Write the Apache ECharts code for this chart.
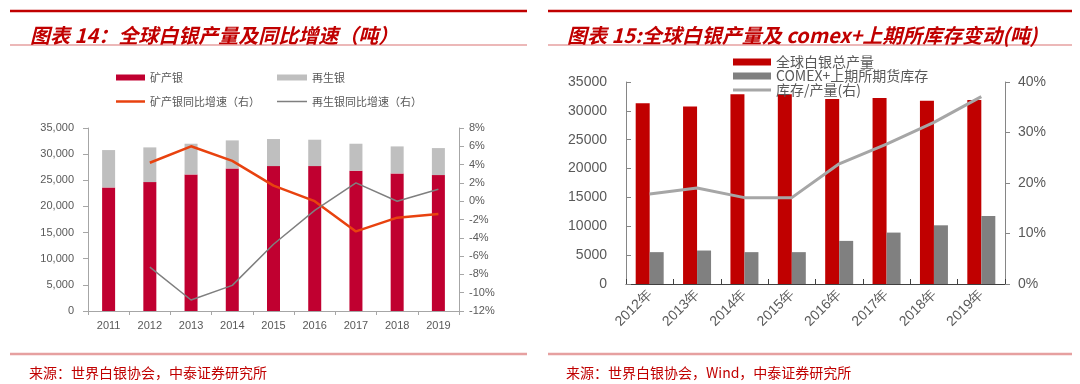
<!DOCTYPE html>
<html>
<head>
<meta charset="utf-8">
<script src="https://cdn.jsdelivr.net/npm/echarts@6/dist/echarts.min.js"></script>
<style>
html,body{margin:0;padding:0;background:#fff;}
#c{width:1080px;height:384px;}
</style>
</head>
<body>
<div id="c"></div>
<script>
// ---- Left chart data (图表14) ----
const yearsL = ['2011','2012','2013','2014','2015','2016','2017','2018','2019'];
const mineSilver = [23630, 24650, 26120, 27270, 27710, 27710, 26820, 26310, 25990];
const recycledSilver = [7150, 6640, 5870, 5360, 5180, 5050, 5170, 5170, 5170];
const mineYoY = [null, 4.2, 6.0, 4.4, 1.7, 0.0, -3.3, -1.8, -1.4];
const recycledYoY = [null, -7.2, -10.8, -9.2, -4.7, -1.0, 2.0, 0.0, 1.3];
const leftTicksL = [0, 35000, 5000];
const rightTicksL = [-12, 8, 2];

// ---- Right chart data (图表15) ----
const yearsR = ['2012年','2013年','2014年','2015年','2016年','2017年','2018年','2019年'];
const totalOutput = [31300, 30750, 32880, 32880, 32060, 32240, 31760, 31880];
const stockpile = [5520, 5800, 5520, 5520, 7470, 8910, 10170, 11780];
const stockRatio = [17.8, 19.0, 17.1, 17.1, 23.8, 27.7, 32.0, 37.1];
const leftTicksR = [0, 35000, 5000];
const rightTicksR = [0, 40, 10];

const titleL = '图表 14：全球白银产量及同比增速（吨）';
const titleR = '图表 15:全球白银产量及 comex+上期所库存变动(吨)';
const sourceL = '来源：世界白银协会，中泰证券研究所';
const sourceR = '来源：世界白银协会，Wind，中泰证券研究所';

const CJK = '"Noto Sans CJK SC", "Noto Sans", sans-serif';
const LAT = '"Liberation Sans", Arial, sans-serif';

const chart = echarts.init(document.getElementById('c'), null, {renderer:'canvas'});

function hline(x1, x2, y, color, w){
  return {type:'line', silent:true, shape:{x1:x1, y1:y, x2:x2, y2:y}, style:{stroke:color, lineWidth:w}};
}
function leg(name, left, top, w, h, size){
  return {data:[name], left:left, top:top, itemWidth:w, itemHeight:h, icon:'rect',
          textStyle:{color:'#595959', fontSize:size, fontFamily:CJK}};
}

const option = {
  animation:false,
  backgroundColor:'#ffffff',
  title:[
    {text:titleL, left:25, top:20, textStyle:{color:'#C00000', fontSize:20, fontWeight:'bold', fontStyle:'italic', fontFamily:CJK}},
    {text:titleR, left:562, top:20, textStyle:{color:'#C00000', fontSize:20, fontWeight:'bold', fontStyle:'italic', fontFamily:CJK}},
    {text:sourceL, left:24, top:361, textStyle:{color:'#C00000', fontSize:14, fontWeight:'normal', fontFamily:CJK}},
    {text:sourceR, left:561, top:361, textStyle:{color:'#C00000', fontSize:14, fontWeight:'normal', fontFamily:CJK}}
  ],
  graphic:[
    hline(10, 527, 11, '#C00000', 2.5),
    hline(10, 527, 45, '#E6A0A0', 1.5),
    hline(548, 1072, 11, '#C00000', 2.5),
    hline(548, 1072, 45, '#E6A0A0', 1.5),
    hline(10, 527, 354, '#E6A0A0', 2.5),
    hline(548, 1072, 354, '#E6A0A0', 2.5)
  ],
  legend:[
    leg('矿产银', 111, 67, 29, 6, 11),
    leg('再生银', 272, 67, 30, 6, 11),
    leg('矿产银同比增速（右）', 111, 91, 29, 2.5, 11),
    leg('再生银同比增速（右）', 272, 91, 30, 1.5, 11),
    leg('全球白银总产量', 728, 50, 38, 7, 14),
    leg('COMEX+上期所期货库存', 728, 64, 38, 7, 14),
    leg('库存/产量(右)', 728, 78, 38, 3, 14)
  ],
  grid:[
    {left:88, right:621, top:128, bottom:73},
    {left:626, right:75, top:82, bottom:100}
  ],
  xAxis:[
    {type:'category', gridIndex:0, data:yearsL, boundaryGap:true,
     axisLine:{lineStyle:{color:'#A6A6A6'}}, axisTick:{show:true, inside:false, length:4, lineStyle:{color:'#A6A6A6'}},
     axisLabel:{color:'#595959', fontSize:11, fontFamily:LAT, margin:9}},
    {type:'category', gridIndex:1, data:yearsR, boundaryGap:true,
     axisLine:{lineStyle:{color:'#404040'}}, axisTick:{show:true, inside:true, length:5, lineStyle:{color:'#404040'}},
     axisLabel:{color:'#595959', fontSize:14, fontFamily:LAT, rotate:45, margin:8}}
  ],
  yAxis:[
    {type:'value', gridIndex:0, min:leftTicksL[0], max:leftTicksL[1], interval:leftTicksL[2],
     axisLine:{show:true, lineStyle:{color:'#A6A6A6'}}, axisTick:{show:true, length:5, lineStyle:{color:'#A6A6A6'}},
     splitLine:{show:false},
     axisLabel:{color:'#595959', fontSize:11, fontFamily:LAT, margin:14, formatter:v=>v.toLocaleString('en-US')}},
    {type:'value', gridIndex:0, position:'right', min:rightTicksL[0], max:rightTicksL[1], interval:rightTicksL[2],
     axisLine:{show:true, lineStyle:{color:'#A6A6A6'}}, axisTick:{show:true, length:5, lineStyle:{color:'#A6A6A6'}},
     splitLine:{show:false},
     axisLabel:{color:'#595959', fontSize:11, fontFamily:LAT, margin:10, formatter:v=>v+'%'}},
    {type:'value', gridIndex:1, min:leftTicksR[0], max:leftTicksR[1], interval:leftTicksR[2],
     axisLine:{show:true, lineStyle:{color:'#868686'}}, axisTick:{show:true, inside:true, length:5, lineStyle:{color:'#868686'}},
     splitLine:{show:false},
     axisLabel:{color:'#595959', fontSize:14, fontFamily:LAT, margin:19, formatter:v=>String(v)}},
    {type:'value', gridIndex:1, position:'right', min:rightTicksR[0], max:rightTicksR[1], interval:rightTicksR[2],
     axisLine:{show:true, lineStyle:{color:'#868686'}}, axisTick:{show:true, length:5, lineStyle:{color:'#868686'}},
     splitLine:{show:false},
     axisLabel:{color:'#595959', fontSize:14, fontFamily:LAT, margin:13, formatter:v=>v+'%'}}
  ],
  series:[
    {name:'矿产银', type:'bar', xAxisIndex:0, yAxisIndex:0, stack:'s', barWidth:13, data:mineSilver, itemStyle:{color:'#C00030'}},
    {name:'再生银', type:'bar', xAxisIndex:0, yAxisIndex:0, stack:'s', barWidth:13, data:recycledSilver, itemStyle:{color:'#BFBFBF'}},
    {name:'矿产银同比增速（右）', type:'line', xAxisIndex:0, yAxisIndex:1, data:mineYoY, symbol:'none', lineStyle:{color:'#E8420F', width:2.5}, itemStyle:{color:'#E8420F'}},
    {name:'再生银同比增速（右）', type:'line', xAxisIndex:0, yAxisIndex:1, data:recycledYoY, symbol:'none', lineStyle:{color:'#7F7F7F', width:1.5}, itemStyle:{color:'#7F7F7F'}},
    {name:'全球白银总产量', type:'bar', xAxisIndex:1, yAxisIndex:2, barWidth:14, barGap:'0%', data:totalOutput, itemStyle:{color:'#C00000'}},
    {name:'COMEX+上期所期货库存', type:'bar', xAxisIndex:1, yAxisIndex:2, barWidth:14, barGap:'0%', data:stockpile, itemStyle:{color:'#808080'}},
    {name:'库存/产量(右)', type:'line', xAxisIndex:1, yAxisIndex:3, data:stockRatio, symbol:'none', lineStyle:{color:'#A6A6A6', width:3}, itemStyle:{color:'#A6A6A6'}}
  ]
};
chart.setOption(option);
</script>
</body>
</html>
